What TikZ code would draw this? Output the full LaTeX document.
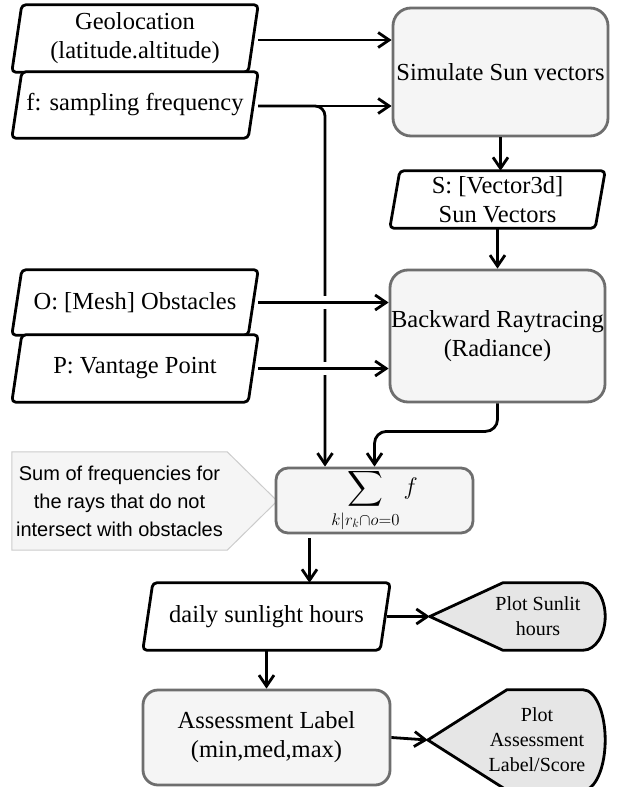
\documentclass[tikz,border=0pt]{standalone}
\usepackage{fix-cm}
\usepackage{amsmath}
\usepackage{fontspec}
\setmainfont{Liberation Serif}
\newfontfamily\sansf{Liberation Sans}
\usetikzlibrary{arrows.meta,calc}
\pgfdeclarelayer{background}
\pgfsetlayers{background,main}
\definecolor{boxfill}{HTML}{F5F5F5}
\definecolor{boxline}{HTML}{6E6E6E}
\definecolor{dispfill}{HTML}{E6E6E6}
\definecolor{noteline}{HTML}{CCCCCC}
\newcommand{\mf}{\fontsize{24.5}{29}\selectfont}
\newcommand{\pf}{\fontsize{20}{25}\selectfont}
\newcommand{\nf}{\sansf\fontsize{20}{28}\selectfont}
\tikzset{
  base/.style={inner sep=0pt, align=center, font=\mf},
  parabox/.style={base},
  procbox/.style={base, draw=boxline, fill=boxfill, line width=2.8pt, rounded corners=18pt},
  paraline/.style={draw=black, fill=white, line width=2.8pt, rounded corners=4pt, line join=round},
  displine/.style={draw=black, fill=dispfill, line width=2.8pt, line join=round},
  noteline/.style={draw=noteline, fill=boxfill, line width=1pt},
  arr/.style={draw=black, line width=2.8pt, -{Straight Barb[length=11pt,width=15pt]}},
  gap/.style={draw=white, line width=6.5pt},
}
\newcommand{\drawpara}[1]{%
  \draw[paraline] ([xshift=10pt]#1.north west) -- (#1.north east) -- ([xshift=-10pt]#1.south east) -- (#1.south west) -- cycle;}
% #1 name, #2 slant dx, #3 control offset
\newcommand{\drawdisp}[3]{%
  \coordinate (#1tip) at ([xshift=-41pt]#1.west);
  \draw[displine] (#1tip) -- ([xshift=#2]#1.north west) -- ([xshift=-22pt]#1.north east)
    .. controls ([xshift=-9.9pt]#1.north east) and ([yshift=#3]#1.east) .. (#1.east)
    .. controls ([yshift=-#3]#1.east) and ([xshift=-9.9pt]#1.south east) .. ([xshift=-22pt]#1.south east)
    -- ([xshift=#2]#1.south west) -- cycle;}
\begin{document}
\begin{tikzpicture}[x=1pt,y=-1pt]
\useasboundingbox (0,0) rectangle (617,787);

% input parallelograms
\node[parabox, minimum width=246pt, minimum height=67pt] (geo) at (135,38.5) {Geolocation\\(latitude.altitude)};
\node[parabox, minimum width=246pt, minimum height=66pt] (freq) at (135,105) {f: sampling frequency};
\node[parabox, minimum width=246pt, minimum height=65pt] (obs) at (135,302.5) {O: [Mesh] Obstacles};
\node[parabox, minimum width=246pt, minimum height=67pt] (vant) at (135,368.5) {P: Vantage Point};
\node[parabox, minimum width=215pt, minimum height=57pt] (svec) at (497.5,199.5) {S: [Vector3d]\\Sun Vectors};
\node[parabox, minimum width=247pt, minimum height=67pt] (daily) at (266.5,616.5) {daily sunlight hours};

% process boxes
\node[procbox, minimum width=215pt, minimum height=128pt] (sim) at (500.5,72) {Simulate Sun vectors};
\node[procbox, minimum width=215pt, minimum height=132pt] (back) at (497.5,336) {Backward Raytracing\\(Radiance)};
\node[procbox, rounded corners=12pt, minimum width=197pt, minimum height=65pt, font=\fontsize{24}{26}\selectfont] (sum) at (374.5,500.5) {$\displaystyle\sum_{k|r_k\cap o=0} f$};
\node[procbox, rounded corners=15pt, minimum width=247pt, minimum height=95pt] (assess) at (266.5,737.5) {Assessment Label\\(min,med,max)};

% displays
\node[base, font=\pf, minimum width=134pt, minimum height=67pt] (plot1) at (538,616.5) {Plot Sunlit\\hours};
\node[base, font=\pf, minimum width=136pt, minimum height=100pt] (plot2) at (537,740) {Plot\\Assessment\\Label/Score};

% note
\node[base, font=\nf, minimum width=215pt, minimum height=98pt] (note) at (119.5,501) {Sum of frequencies for\\the rays that do not\\intersect with obstacles};

\begin{pgfonlayer}{background}
  \fill[white] (0,0) rectangle (617,787);
  \drawpara{geo}
  \drawpara{freq}
  \drawpara{obs}
  \drawpara{vant}
  \drawpara{svec}
  \drawpara{daily}
  \drawdisp{plot1}{32pt}{18.5pt}
  \drawdisp{plot2}{38pt}{27.6pt}
  \draw[noteline] (note.north west) -- (note.north east) -- ([xshift=50pt]note.east) -- (note.south east) -- (note.south west) -- cycle;
\end{pgfonlayer}

% connectors
\coordinate (br) at (325,106);
\draw[arr, rounded corners=10pt] (freq.east |- br) -- (br) -- (br |- sum.north);
\coordinate (x1) at (br |- obs.east);
\coordinate (x2) at (br |- vant.east);
\draw[gap] ([yshift=6.5pt]x1) -- ([yshift=-6.5pt]x1);
\draw[gap] ([yshift=6.5pt]x2) -- ([yshift=-6.5pt]x2);
\draw[arr] (geo.east |- 0,40) -- (sim.west |- 0,40);
\draw[arr] (freq.east |- br) -- (sim.west |- br);
\draw[arr] (sim.south) -- (sim.south |- svec.north);
\draw[arr] (svec.south) -- (back.north);
\draw[arr] (obs.east) -- (obs.east -| back.west);
\draw[arr] (vant.east) -- (vant.east -| back.west);
\draw[arr, rounded corners=12pt] (back.south) -- ++(0,28) -| (sum.north);
\draw[arr] ([xshift=-65pt, yshift=-4pt]sum.south) -- ([xshift=-65pt]sum.south |- daily.north);
\draw[arr] ([xshift=-3pt]daily.east) -- (plot1tip);
\draw[arr] (daily.south) -- (assess.north);
\draw[arr] (assess.east) -- (plot2tip);
\end{tikzpicture}
\end{document}
